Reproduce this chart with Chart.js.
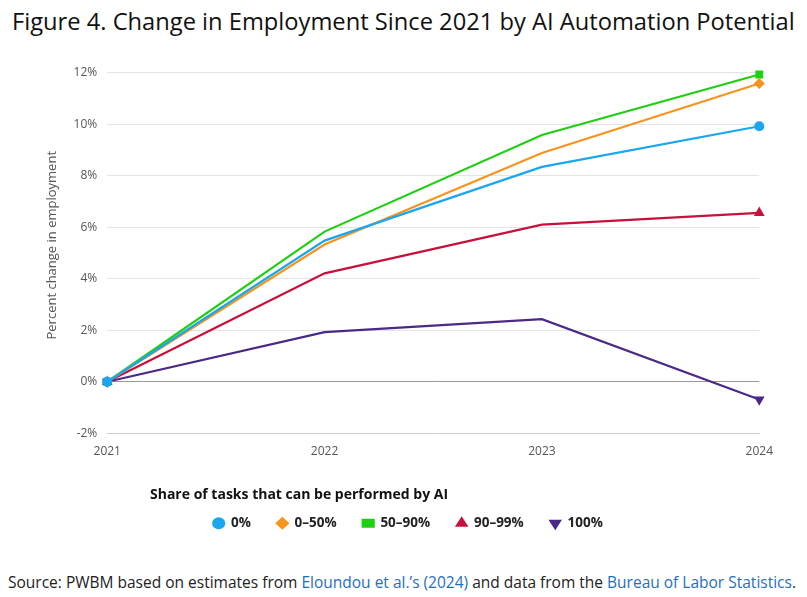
<!DOCTYPE html>
<html><head><meta charset="utf-8">
<script src="https://cdn.jsdelivr.net/npm/chart.js@4"></script>
<style>
body{margin:0;background:#fff;font-family:"Open Sans",sans-serif;}
#title{position:absolute;left:12px;top:5px;font-size:23.7px;color:#111;white-space:nowrap}
#wrap{position:absolute;left:40px;top:40px;width:736px;height:500px}
#ltitle{position:absolute;left:150px;top:484px;font-size:14px;font-weight:bold;color:#111;white-space:nowrap}
#src{position:absolute;left:8px;top:571px;font-size:15.5px;color:#222;white-space:nowrap}
#src span{color:#1f6fbf}
</style></head><body>
<div id="title">Figure 4. Change in Employment Since 2021 by AI Automation Potential</div>
<div id="wrap"><canvas id="c"></canvas></div>
<div id="ltitle">Share of tasks that can be performed by AI</div>
<div id="src">Source: PWBM based on estimates from <span>Eloundou et al.’s (2024)</span> and data from the <span>Bureau of Labor Statistics</span>.</div>
<script>
const years = ['2021', '2022', '2023', '2024'];
const s0 = [0, 5.48, 8.34, 9.92];
const s0to50 = [0, 5.33, 8.88, 11.58];
const s50to90 = [0, 5.83, 9.58, 11.93];
const s90to99 = [0, 4.21, 6.10, 6.56];
const s100 = [0, 1.93, 2.43, -0.69];
const yTicks = [-2, 0, 2, 4, 6, 8, 10, 12];

const ends = [4, 0, 0, 4];
function ds(label, data, color, style, rot) {
  return {label, data, borderColor: color, backgroundColor: color, borderWidth: 2.2,
    pointStyle: style, rotation: rot || 0, pointRadius: ends, pointHoverRadius: ends, tension: 0};
}

new Chart(document.getElementById('c'), {
  type: 'line',
  data: {
    labels: years,
    datasets: [
      ds('0%', s0, '#1aa7ef', 'circle'),
      ds('0–50%', s0to50, '#f7941d', 'rectRot'),
      ds('50–90%', s50to90, '#1fcf11', 'rect'),
      ds('90–99%', s90to99, '#c8103c', 'triangle'),
      ds('100%', s100, '#4a2a86', 'triangle', 180)
    ]
  },
  options: {
    responsive: true, maintainAspectRatio: false, animation: false,
    plugins: {
      legend: {
        position: 'bottom', align: 'center',
        title: {display: true, text: ' ', color: 'rgba(0,0,0,0)',
          font: {size: 14}, padding: {top: 10, bottom: 2}},
        labels: {usePointStyle: true, pointStyleWidth: 11, boxHeight: 7, color: '#222',
          font: {size: 13.5, weight: 'bold', family: 'Open Sans'}, padding: 26}
      },
      tooltip: {enabled: false}
    },
    scales: {
      x: {
        offset: false,
        grid: {display: false},
        border: {color: '#ccc'},
        ticks: {color: '#555', font: {size: 12, family: 'Open Sans'}}
      },
      y: {
        min: -2, max: 12.6,
        afterBuildTicks: a => { a.ticks = yTicks.map(v => ({value: v})); },
        grid: {color: c => c.tick.value === 0 ? '#999' : '#e4e4e4', drawTicks: false},
        border: {display: false},
        ticks: {color: '#555', padding: 10, font: {size: 12, family: 'Open Sans'}, callback: v => v + '%'},
        title: {display: true, text: 'Percent change in employment', color: '#555',
          font: {size: 13, family: 'Open Sans'}}
      }
    }
  }
});
</script>
</body></html>
